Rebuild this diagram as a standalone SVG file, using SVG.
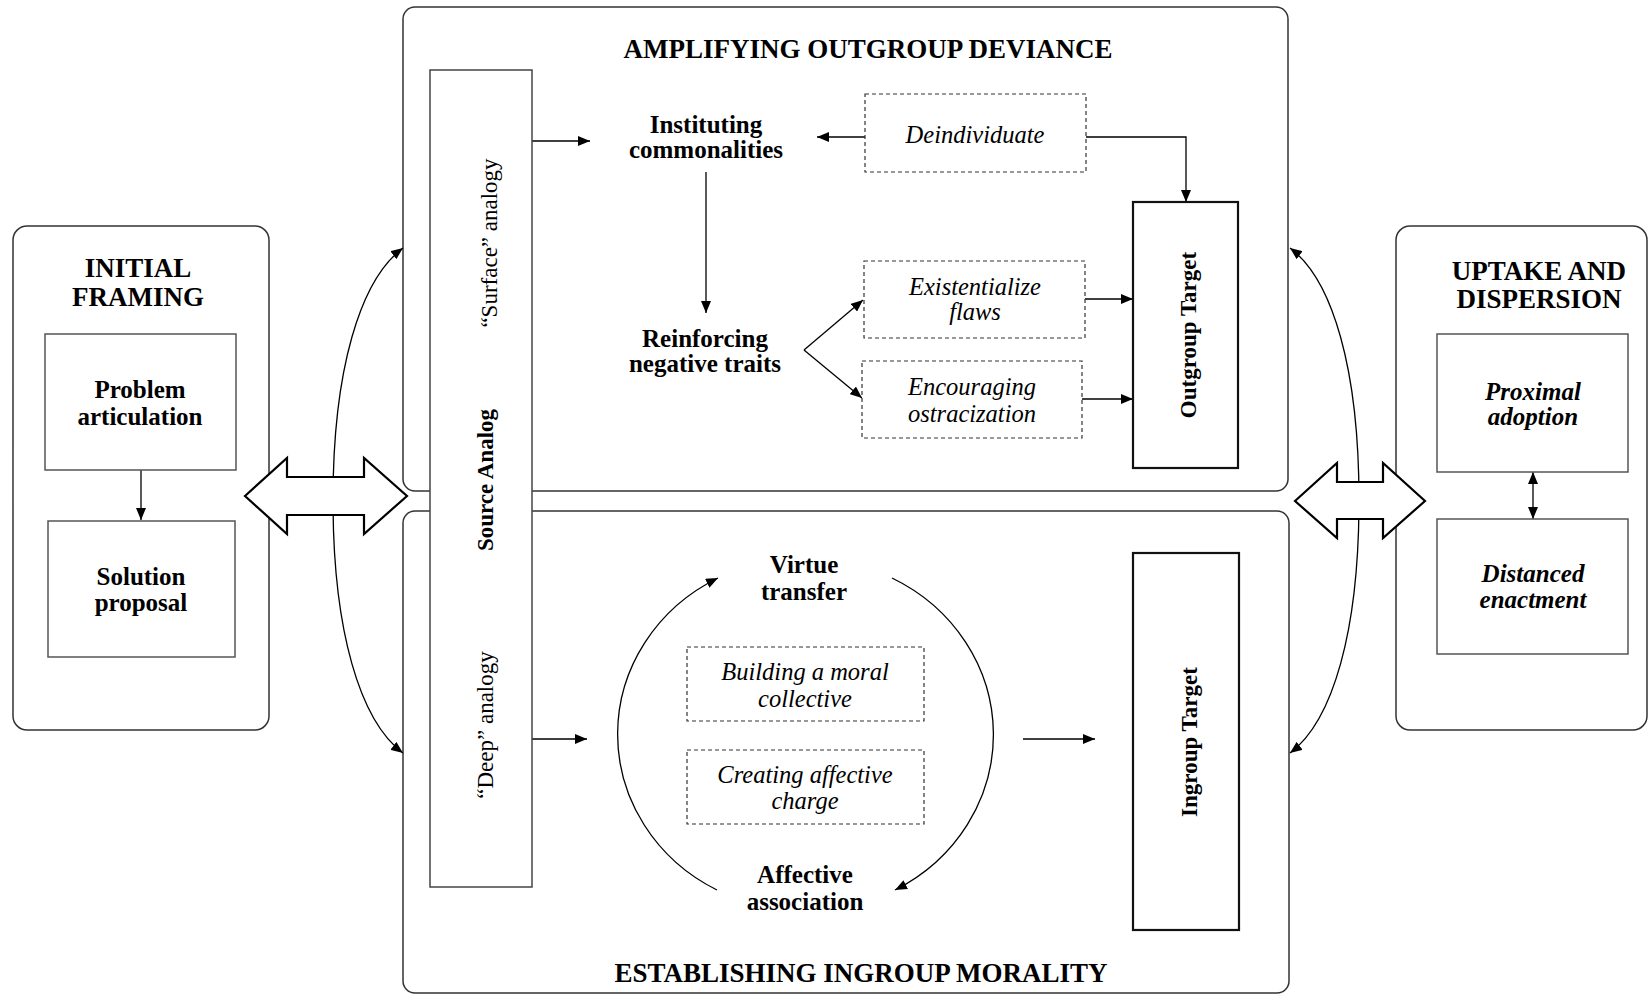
<svg xmlns="http://www.w3.org/2000/svg" width="1648" height="995" viewBox="0 0 1648 995">
<style>
text{font-family:"Liberation Serif","Times New Roman",serif;fill:#000;text-anchor:middle}
.t{font-size:27px;font-weight:bold}
.b{font-size:25px;font-weight:bold}
.i{font-size:24.5px;font-style:italic}
.bi{font-size:25px;font-weight:bold;font-style:italic}
.v{font-size:23px}
.vb{font-size:23px;font-weight:bold}
.cont{fill:#fff;stroke:#333;stroke-width:1.5}
.box{fill:#fff;stroke:#555;stroke-width:1.5}
.tbox{fill:#fff;stroke:#111;stroke-width:2.2}
.dash{fill:#fff;stroke:#333;stroke-width:1.2;stroke-dasharray:4 3}
.ln{fill:none;stroke:#000;stroke-width:1.3}
.big{fill:#fff;stroke:#000;stroke-width:2.2;stroke-linejoin:miter}
</style>
<defs>
<marker id="ah" viewBox="0 0 12 10" refX="12" refY="5" markerWidth="12" markerHeight="10" markerUnits="userSpaceOnUse" orient="auto-start-reverse">
<path d="M0,0 L12,5 L0,10 z" fill="#000"/>
</marker>
</defs>

<g id="initial-framing">
<rect class="cont" x="13" y="226" width="256" height="504" rx="14"/>
<text class="t" x="138" y="277">INITIAL</text>
<text class="t" x="138" y="306">FRAMING</text>
</g>

<g id="amplifying-outgroup-deviance">
<rect class="cont" x="403" y="7" width="885" height="484" rx="12"/>
<text class="t" x="868" y="58">AMPLIFYING OUTGROUP DEVIANCE</text>
</g>

<g id="establishing-ingroup-morality">
<rect class="cont" x="403" y="511" width="886" height="482" rx="12"/>
<text class="t" x="861" y="982">ESTABLISHING INGROUP MORALITY</text>
</g>

<g id="uptake-and-dispersion">
<rect class="cont" x="1396" y="226" width="251" height="504" rx="14"/>
<text class="t" x="1539" y="280">UPTAKE AND</text>
<text class="t" x="1539" y="308">DISPERSION</text>
</g>

<g id="connectors">
<path class="ln" d="M403 248 C360 280,333 370,333 500 C333 631,360 721,403 753" marker-start="url(#ah)" marker-end="url(#ah)"/>
<path class="ln" d="M1290 248 C1333 280,1359 370,1359 500 C1359 631,1333 721,1290 753" marker-start="url(#ah)" marker-end="url(#ah)"/>
<polygon class="big" points="245,496 287,458 287,477 364,477 364,458 407,496 364,534 364,515 287,515 287,534"/>
<polygon class="big" points="1295,501 1337,463 1337,482 1383,482 1383,463 1425,501 1383,538 1383,519 1337,519 1337,538"/>
<line class="ln" x1="141" y1="470" x2="141" y2="520" marker-end="url(#ah)"/>
<line class="ln" x1="532" y1="141" x2="590" y2="141" marker-end="url(#ah)"/>
<line class="ln" x1="865" y1="137" x2="817" y2="137" marker-end="url(#ah)"/>
<line class="ln" x1="706" y1="172" x2="706" y2="313" marker-end="url(#ah)"/>
<line class="ln" x1="804" y1="350" x2="863" y2="300" marker-end="url(#ah)"/>
<line class="ln" x1="804" y1="350" x2="862" y2="398" marker-end="url(#ah)"/>
<path class="ln" d="M1086 137 H1186 V202" marker-end="url(#ah)"/>
<line class="ln" x1="1085" y1="299" x2="1133" y2="299" marker-end="url(#ah)"/>
<line class="ln" x1="1082" y1="399" x2="1133" y2="399" marker-end="url(#ah)"/>
<line class="ln" x1="532" y1="739" x2="587" y2="739" marker-end="url(#ah)"/>
<line class="ln" x1="1023" y1="739" x2="1095" y2="739" marker-end="url(#ah)"/>
<path class="ln" d="M717 890 A186 176 0 0 1 718 578" marker-end="url(#ah)"/>
<path class="ln" d="M892 578 A186 176 0 0 1 895 890" marker-end="url(#ah)"/>
<line class="ln" x1="1533" y1="472" x2="1533" y2="519" marker-start="url(#ah)" marker-end="url(#ah)"/>
</g>

<g id="source-analog">
<rect class="box" x="430" y="70" width="102" height="817" style="stroke:#444"/>
<text class="v" transform="translate(497,243) rotate(-90)">“Surface” analogy</text>
<text class="vb" transform="translate(493,480) rotate(-90)">Source Analog</text>
<text class="v" transform="translate(493,725) rotate(-90)">“Deep” analogy</text>
</g>

<g id="problem-articulation">
<rect class="box" x="45" y="334" width="191" height="136"/>
<text class="b" x="140" y="398">Problem</text>
<text class="b" x="140" y="425">articulation</text>
</g>

<g id="solution-proposal">
<rect class="box" x="48" y="521" width="187" height="136"/>
<text class="b" x="141" y="585">Solution</text>
<text class="b" x="141" y="611">proposal</text>
</g>

<g id="instituting-commonalities">
<text class="b" x="706" y="133">Instituting</text>
<text class="b" x="706" y="158">commonalities</text>
</g>

<g id="reinforcing-negative-traits">
<text class="b" x="705" y="347">Reinforcing</text>
<text class="b" x="705" y="372">negative traits</text>
</g>

<g id="deindividuate">
<rect class="dash" x="865" y="94" width="221" height="78"/>
<text class="i" x="975" y="143">Deindividuate</text>
</g>

<g id="existentialize-flaws">
<rect class="dash" x="864" y="261" width="221" height="77"/>
<text class="i" x="975" y="295">Existentialize</text>
<text class="i" x="975" y="320">flaws</text>
</g>

<g id="encouraging-ostracization">
<rect class="dash" x="862" y="361" width="220" height="77"/>
<text class="i" x="972" y="395">Encouraging</text>
<text class="i" x="972" y="422">ostracization</text>
</g>

<g id="outgroup-target">
<rect class="tbox" x="1133" y="202" width="105" height="266"/>
<text class="vb" transform="translate(1196,335) rotate(-90)">Outgroup Target</text>
</g>

<g id="virtue-transfer">
<text class="b" x="804" y="573">Virtue</text>
<text class="b" x="804" y="600">transfer</text>
</g>

<g id="building-moral-collective">
<rect class="dash" x="687" y="647" width="237" height="74"/>
<text class="i" x="805" y="680">Building a moral</text>
<text class="i" x="805" y="707">collective</text>
</g>

<g id="creating-affective-charge">
<rect class="dash" x="687" y="750" width="237" height="74"/>
<text class="i" x="805" y="783">Creating affective</text>
<text class="i" x="805" y="809">charge</text>
</g>

<g id="affective-association">
<text class="b" x="805" y="883">Affective</text>
<text class="b" x="805" y="910">association</text>
</g>

<g id="ingroup-target">
<rect class="tbox" x="1133" y="553" width="106" height="377"/>
<text class="vb" transform="translate(1197,742) rotate(-90)">Ingroup Target</text>
</g>

<g id="proximal-adoption">
<rect class="box" x="1437" y="334" width="191" height="138"/>
<text class="bi" x="1533" y="400">Proximal</text>
<text class="bi" x="1533" y="425">adoption</text>
</g>

<g id="distanced-enactment">
<rect class="box" x="1437" y="519" width="191" height="135"/>
<text class="bi" x="1533" y="582">Distanced</text>
<text class="bi" x="1533" y="608">enactment</text>
</g>
</svg>
